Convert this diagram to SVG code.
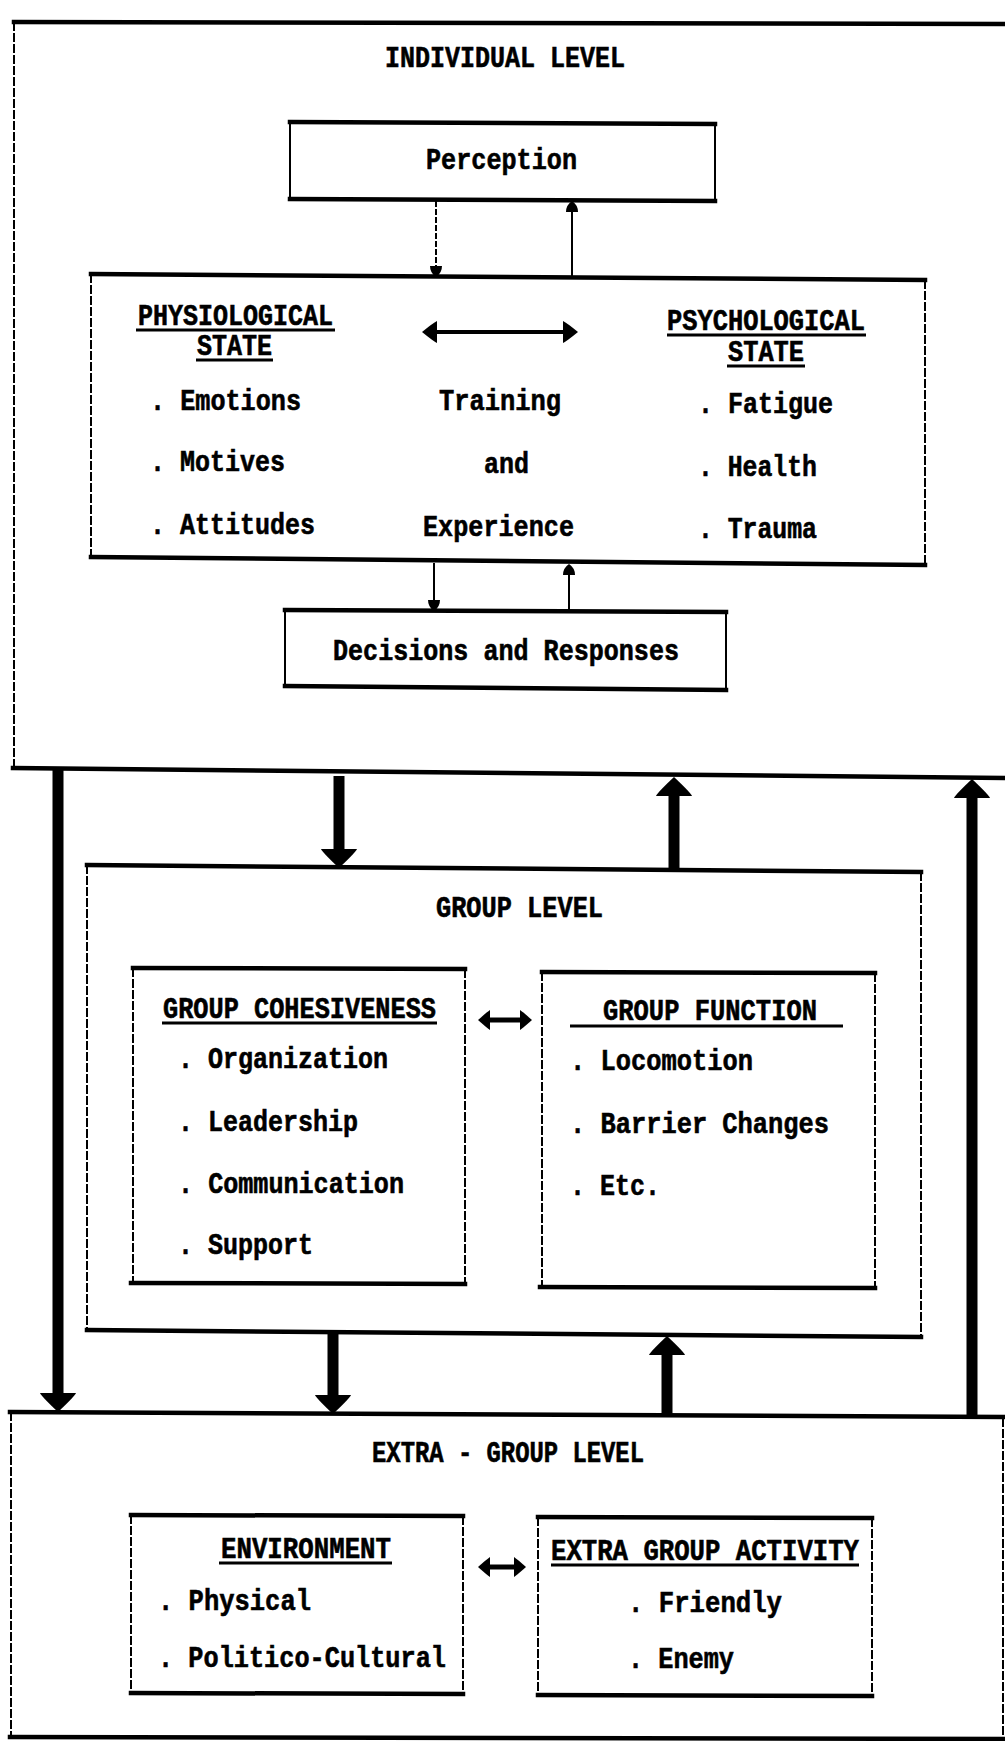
<svg xmlns="http://www.w3.org/2000/svg" width="1005" height="1741" viewBox="0 0 1005 1741">
<style>
  .edge{stroke:#000;stroke-width:4.5;fill:none;stroke-linecap:square}
  .side{stroke:#000;stroke-width:2;fill:none;stroke-dasharray:9 2}
  .rule{stroke:#000;stroke-width:3}
  .t{font-family:"Liberation Mono","DejaVu Sans Mono",monospace;font-weight:bold;font-size:29px;fill:#000;stroke:#000;stroke-width:0.6}
  .thin{stroke:#000;stroke-width:2;fill:none}
  .dash{stroke-dasharray:6 2}
  .wide{stroke:#000;stroke-width:11;fill:none}
  .mid{stroke:#000;stroke-width:4;fill:none}
  .short{stroke:#000;stroke-width:5;fill:none}
</style>
<defs>
  <!-- heavy arrowhead for the level-to-level flows -->
  <marker id="bigHead" markerUnits="userSpaceOnUse" viewBox="0 -19 20 38" markerWidth="20" markerHeight="38" refX="0" refY="0" orient="auto">
    <path d="M0,-18 Q3,-17 19,0 Q3,17 0,18 Z" fill="#000"/>
  </marker>
  <!-- rounded head for the thin links around the state box -->
  <marker id="blobHead" markerUnits="userSpaceOnUse" viewBox="0 -7 12 14" markerWidth="12" markerHeight="14" refX="0" refY="0" orient="auto">
    <path d="M0,-6 Q7,-6 11,0 Q7,6 0,6 Z" fill="#000"/>
  </marker>
  <!-- two-way heads -->
  <marker id="midHead" markerUnits="userSpaceOnUse" viewBox="0 -12 16 24" markerWidth="16" markerHeight="24" refX="0" refY="0" orient="auto-start-reverse">
    <path d="M0,-11 Q4,-9 15,0 Q4,9 0,11 Z" fill="#000"/>
  </marker>
  <marker id="smallHead" markerUnits="userSpaceOnUse" viewBox="0 -11 13 22" markerWidth="13" markerHeight="22" refX="0" refY="0" orient="auto-start-reverse">
    <path d="M0,-10 Q3,-8 12,0 Q3,8 0,10 Z" fill="#000"/>
  </marker>
</defs>

<rect x="0" y="0" width="1005" height="1741" fill="#fff"/>

<!-- Individual level frame -->
<g id="individual-level">
  <path class="edge" d="M14,22 L1005,24"/>
  <path class="side" d="M14,22 L14,768"/>
  <path class="edge" d="M13,768 L1005,778"/>
  <text class="t" x="385" y="67" textLength="240" lengthAdjust="spacingAndGlyphs">INDIVIDUAL LEVEL</text>
</g>

<g id="perception">
  <path class="edge" d="M290,122 L715,124"/>
  <path class="edge" d="M290,199 L715,201"/>
  <path class="thin" d="M290,122 L290,199 M715,124 L715,201"/>
  <text class="t" x="426" y="169" textLength="151" lengthAdjust="spacingAndGlyphs">Perception</text>
</g>

<g id="state-box">
  <path class="edge" d="M91,274 L925,280"/>
  <path class="edge" d="M91,557 L925,565"/>
  <path class="side" d="M91,274 L91,557 M925,280 L925,565"/>
  <text class="t" x="138" y="325" textLength="195" lengthAdjust="spacingAndGlyphs">PHYSIOLOGICAL</text>
  <line class="rule" x1="136" y1="330" x2="335" y2="330"/>
  <text class="t" x="197" y="355" textLength="75" lengthAdjust="spacingAndGlyphs">STATE</text>
  <line class="rule" x1="196" y1="360" x2="273" y2="360"/>
  <text class="t" x="667" y="330" textLength="198" lengthAdjust="spacingAndGlyphs">PSYCHOLOGICAL</text>
  <line class="rule" x1="667" y1="335" x2="866" y2="335"/>
  <text class="t" x="728" y="361" textLength="76" lengthAdjust="spacingAndGlyphs">STATE</text>
  <line class="rule" x1="727" y1="366" x2="805" y2="366"/>
  <text class="t" x="150" y="410" textLength="151" lengthAdjust="spacingAndGlyphs">. Emotions</text>
  <text class="t" x="150" y="471" textLength="135" lengthAdjust="spacingAndGlyphs">. Motives</text>
  <text class="t" x="150" y="534" textLength="165" lengthAdjust="spacingAndGlyphs">. Attitudes</text>
  <text class="t" x="439" y="410" textLength="122" lengthAdjust="spacingAndGlyphs">Training</text>
  <text class="t" x="484" y="473" textLength="45" lengthAdjust="spacingAndGlyphs">and</text>
  <text class="t" x="423" y="536" textLength="151" lengthAdjust="spacingAndGlyphs">Experience</text>
  <text class="t" x="698" y="413" textLength="135" lengthAdjust="spacingAndGlyphs">. Fatigue</text>
  <text class="t" x="698" y="476" textLength="119" lengthAdjust="spacingAndGlyphs">. Health</text>
  <text class="t" x="698" y="538" textLength="119" lengthAdjust="spacingAndGlyphs">. Trauma</text>
</g>

<g id="decisions">
  <path class="edge" d="M285,610 L726,612"/>
  <path class="edge" d="M285,686 L726,690"/>
  <path class="thin" d="M285,610 L285,686 M726,612 L726,690"/>
  <text class="t" x="333" y="660" textLength="346" lengthAdjust="spacingAndGlyphs">Decisions and Responses</text>
</g>

<!-- Group level frame -->
<g id="group-level">
  <path class="edge" d="M87,865 L921,872"/>
  <path class="edge" d="M87,1330 L921,1337"/>
  <path class="side" d="M87,865 L87,1330 M921,872 L921,1337"/>
  <text class="t" x="436" y="917" textLength="167" lengthAdjust="spacingAndGlyphs">GROUP LEVEL</text>
</g>

<g id="group-cohesiveness">
  <path class="edge" d="M133,968 L465,969"/>
  <path class="edge" d="M131,1283 L465,1284"/>
  <path class="side" d="M133,968 L133,1283 M465,969 L465,1284"/>
  <text class="t" x="163" y="1018" textLength="273" lengthAdjust="spacingAndGlyphs">GROUP COHESIVENESS</text>
  <line class="rule" x1="162" y1="1023" x2="437" y2="1023"/>
  <text class="t" x="178" y="1068" textLength="210" lengthAdjust="spacingAndGlyphs">. Organization</text>
  <text class="t" x="178" y="1131" textLength="180" lengthAdjust="spacingAndGlyphs">. Leadership</text>
  <text class="t" x="178" y="1193" textLength="226" lengthAdjust="spacingAndGlyphs">. Communication</text>
  <text class="t" x="178" y="1254" textLength="135" lengthAdjust="spacingAndGlyphs">. Support</text>
</g>

<g id="group-function">
  <path class="edge" d="M542,972 L875,973"/>
  <path class="edge" d="M540,1287 L875,1288"/>
  <path class="side" d="M542,972 L542,1287 M875,973 L875,1288"/>
  <text class="t" x="603" y="1020" textLength="214" lengthAdjust="spacingAndGlyphs">GROUP FUNCTION</text>
  <line class="rule" x1="570" y1="1026" x2="843" y2="1026"/>
  <text class="t" x="570" y="1070" textLength="183" lengthAdjust="spacingAndGlyphs">. Locomotion</text>
  <text class="t" x="570" y="1133" textLength="259" lengthAdjust="spacingAndGlyphs">. Barrier Changes</text>
  <text class="t" x="570" y="1195" textLength="90" lengthAdjust="spacingAndGlyphs">. Etc.</text>
</g>

<!-- Extra-group level frame -->
<g id="extra-group-level">
  <path class="edge" d="M10,1412 L1005,1417"/>
  <path class="edge" d="M10,1737 L1005,1739"/>
  <path class="side" d="M11,1412 L11,1737 M1003,1418 L1003,1738"/>
  <text class="t" x="372" y="1462" textLength="272" lengthAdjust="spacingAndGlyphs">EXTRA - GROUP LEVEL</text>
</g>

<g id="environment">
  <path class="edge" d="M131,1515 L463,1516"/>
  <path class="edge" d="M131,1693 L463,1694"/>
  <path class="side" d="M131,1515 L131,1693 M463,1516 L463,1694"/>
  <text class="t" x="221" y="1558" textLength="170" lengthAdjust="spacingAndGlyphs">ENVIRONMENT</text>
  <line class="rule" x1="219" y1="1563" x2="392" y2="1563"/>
  <text class="t" x="158" y="1610" textLength="153" lengthAdjust="spacingAndGlyphs">. Physical</text>
  <text class="t" x="158" y="1667" textLength="288" lengthAdjust="spacingAndGlyphs">. Politico-Cultural</text>
</g>

<g id="extra-group-activity">
  <path class="edge" d="M538,1517 L872,1518"/>
  <path class="edge" d="M538,1695 L872,1696"/>
  <path class="side" d="M538,1517 L538,1695 M872,1518 L872,1696"/>
  <text class="t" x="551" y="1560" textLength="308" lengthAdjust="spacingAndGlyphs">EXTRA GROUP ACTIVITY</text>
  <line class="rule" x1="551" y1="1565" x2="859" y2="1565"/>
  <text class="t" x="628" y="1612" textLength="154" lengthAdjust="spacingAndGlyphs">. Friendly</text>
  <text class="t" x="628" y="1668" textLength="106" lengthAdjust="spacingAndGlyphs">. Enemy</text>
</g>

<!-- Connectors -->
<g id="connectors">
  <line class="thin dash" x1="436" y1="201" x2="436" y2="266" marker-end="url(#blobHead)"/>
  <line class="thin" x1="572" y1="278" x2="572" y2="212" marker-end="url(#blobHead)"/>
  <line class="thin" x1="434" y1="563" x2="434" y2="600" marker-end="url(#blobHead)"/>
  <line class="thin" x1="569" y1="611" x2="569" y2="575" marker-end="url(#blobHead)"/>
  <line class="mid" x1="437" y1="332" x2="563" y2="332" marker-start="url(#midHead)" marker-end="url(#midHead)"/>

  <line class="wide" x1="339" y1="776" x2="339" y2="849" marker-end="url(#bigHead)"/>
  <line class="wide" x1="674" y1="870" x2="674" y2="796" marker-end="url(#bigHead)"/>
  <line class="wide" x1="58" y1="770" x2="58" y2="1393" marker-end="url(#bigHead)"/>
  <line class="wide" x1="972" y1="1416" x2="972" y2="798" marker-end="url(#bigHead)"/>
  <line class="wide" x1="333" y1="1333" x2="333" y2="1395" marker-end="url(#bigHead)"/>
  <line class="wide" x1="667" y1="1415" x2="667" y2="1355" marker-end="url(#bigHead)"/>

  <line class="short" x1="490" y1="1020" x2="520" y2="1020" marker-start="url(#smallHead)" marker-end="url(#smallHead)"/>
  <line class="short" x1="490" y1="1567" x2="514" y2="1567" marker-start="url(#smallHead)" marker-end="url(#smallHead)"/>
</g>
</svg>
